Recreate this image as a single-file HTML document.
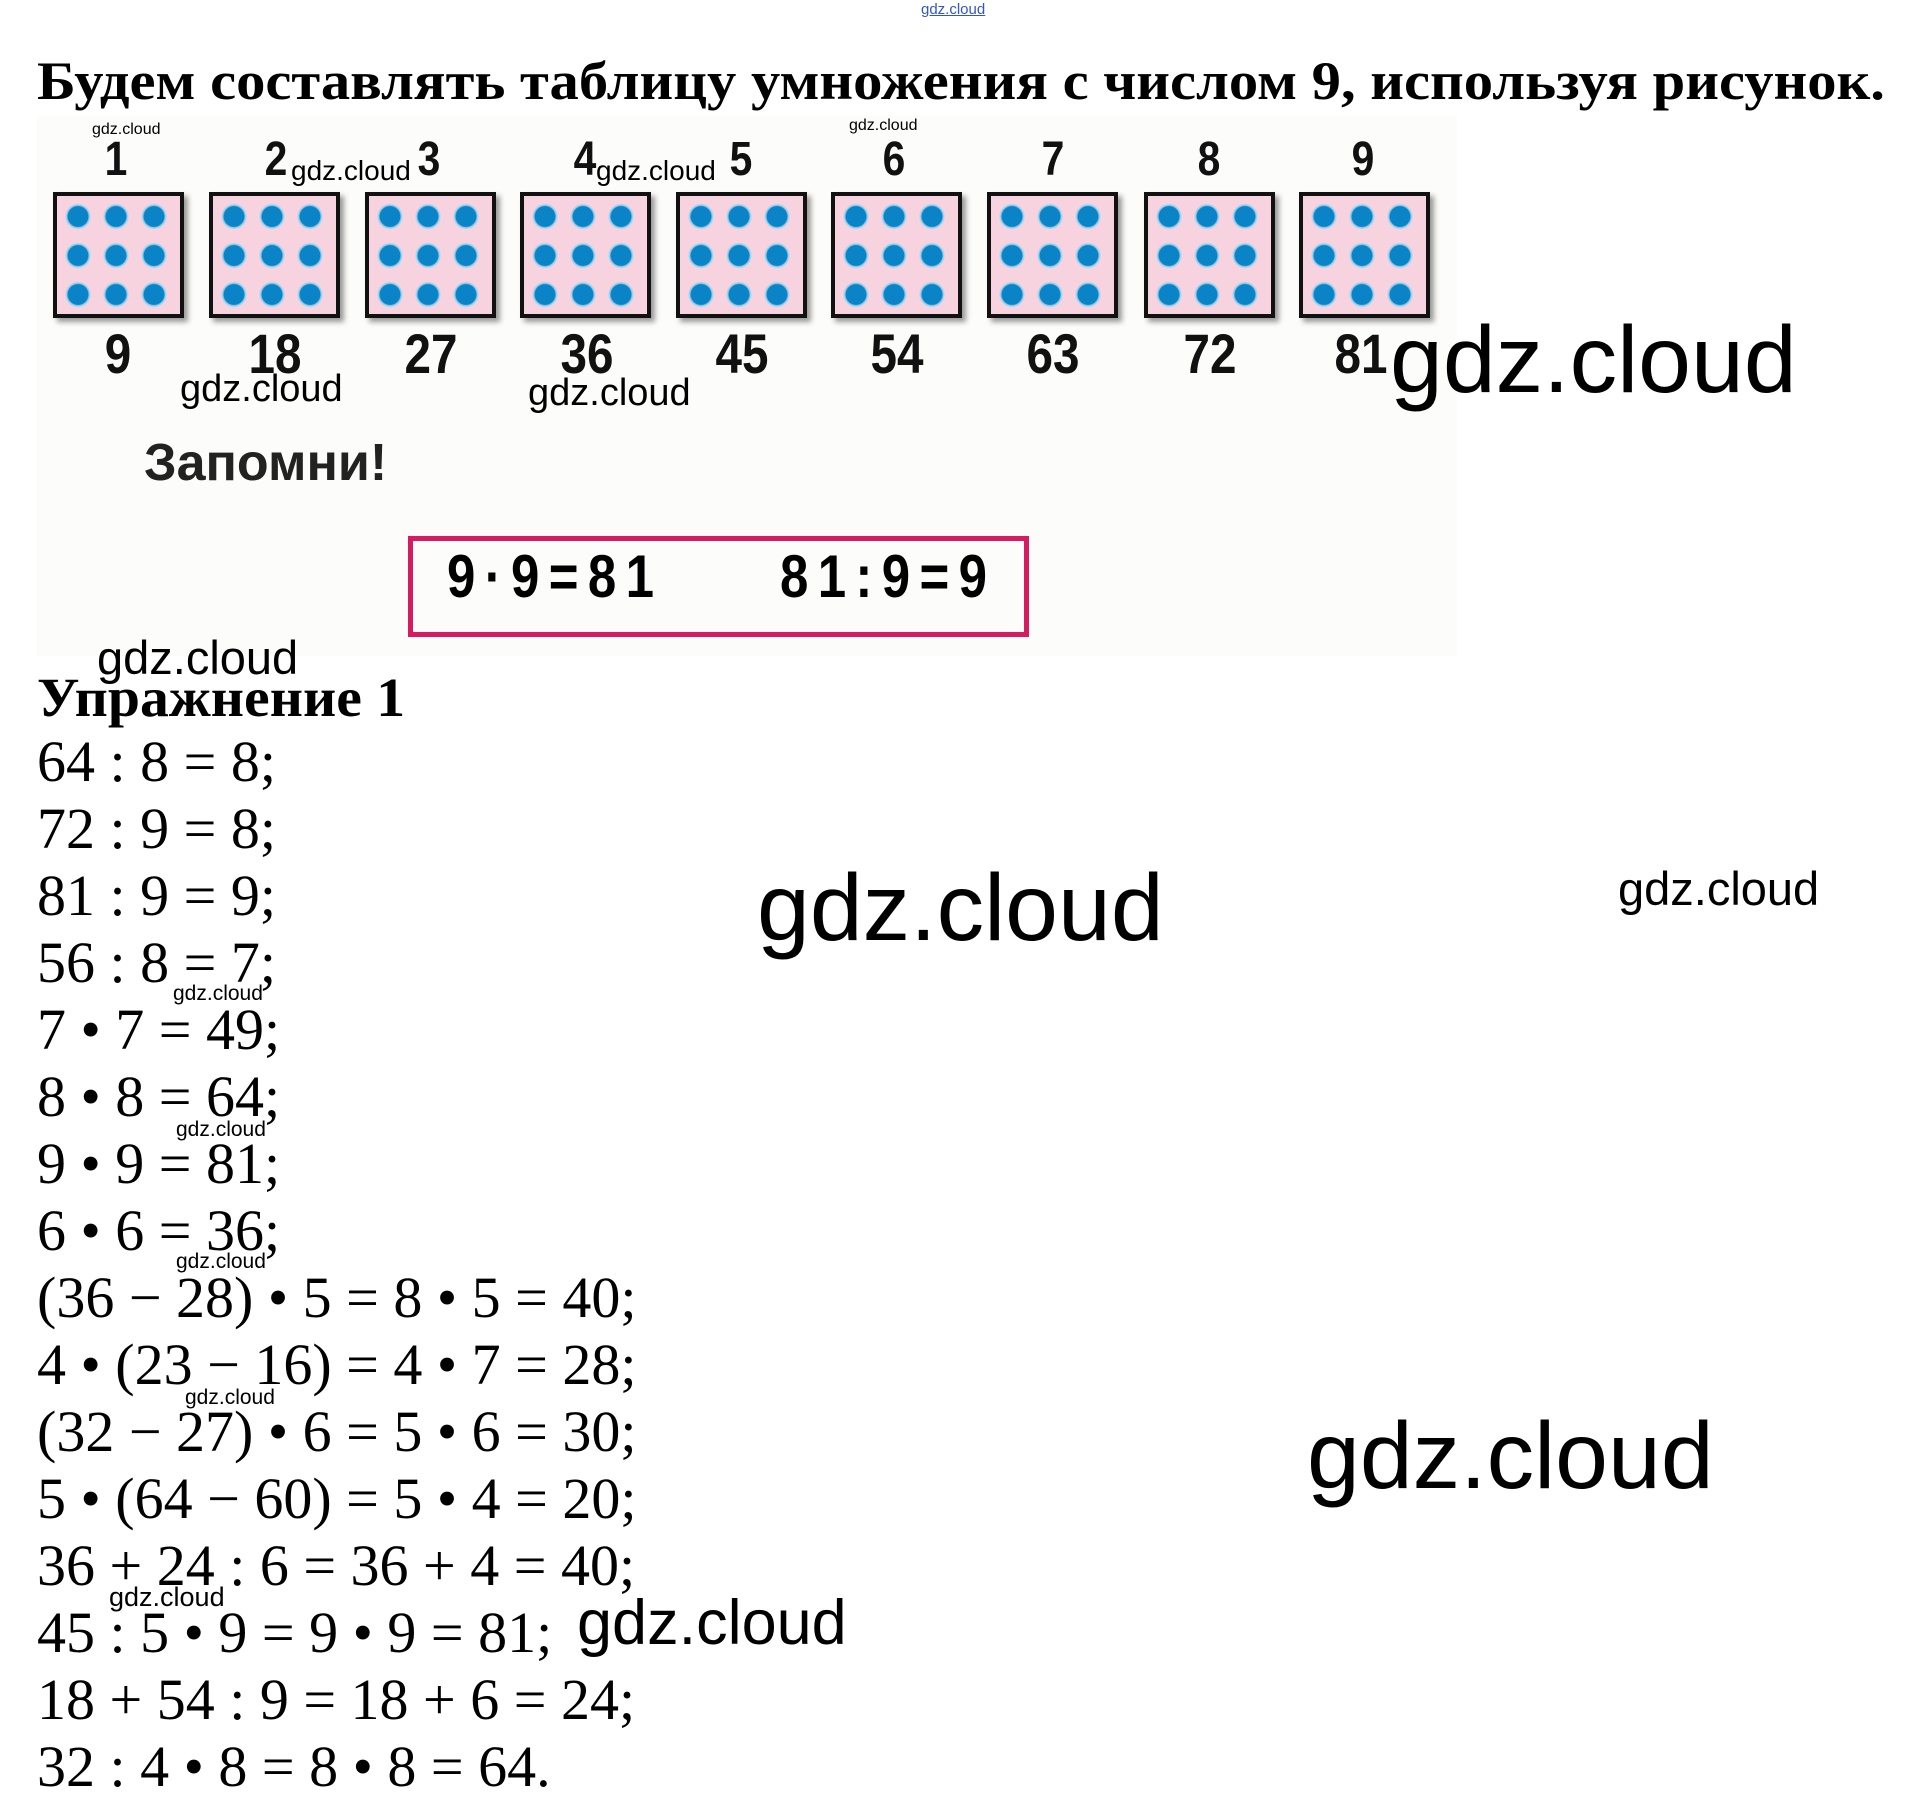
<!DOCTYPE html>
<html><head><meta charset="utf-8"><style>
body{margin:0;width:1919px;height:1801px;background:#fff;position:relative;overflow:hidden;font-family:"Liberation Serif",serif;}
.a{position:absolute;white-space:nowrap;line-height:1;}
.w{font-family:"Liberation Sans",sans-serif;color:#000;}
.box{position:absolute;top:192px;width:131px;height:126px;box-sizing:border-box;border:4px solid #111;background:#f7d3df;box-shadow:4px 4px 5px #999;}
.box div{position:absolute;left:2px;top:1px;width:114px;height:117px;background:radial-gradient(circle at 50% 50%,#0a84c6 10px,#7ecff0 11px,transparent 13px);background-size:38px 39px;}
.n{position:absolute;font-family:"Liberation Sans",sans-serif;font-weight:bold;transform:scaleX(0.85);text-align:center;width:100px;line-height:1;color:#111;}
.eq{font-size:58px;line-height:67px;}
</style></head><body>
<div class="a w" style="left:921px;top:2px;font-size:15px;color:#3355cc;text-decoration:underline;">gdz.cloud</div>
<div class="a" style="left:37px;top:54px;font-size:54px;font-weight:bold;transform:scaleX(1.085);transform-origin:left;">Будем составлять таблицу умножения с числом 9, используя рисунок.</div>
<div style="position:absolute;left:37px;top:116px;width:1420px;height:540px;background:#fcfcfa;"></div>

<div class="box" style="left:53px"><div></div></div>
<div class="box" style="left:209px"><div></div></div>
<div class="box" style="left:365px"><div></div></div>
<div class="box" style="left:520px"><div></div></div>
<div class="box" style="left:676px"><div></div></div>
<div class="box" style="left:831px"><div></div></div>
<div class="box" style="left:987px"><div></div></div>
<div class="box" style="left:1144px"><div></div></div>
<div class="box" style="left:1299px"><div></div></div>

<div class="n" style="left:66px;top:136px;font-size:48px">1</div>
<div class="n" style="left:226px;top:136px;font-size:48px">2</div>
<div class="n" style="left:379px;top:136px;font-size:48px">3</div>
<div class="n" style="left:535px;top:136px;font-size:48px">4</div>
<div class="n" style="left:691px;top:136px;font-size:48px">5</div>
<div class="n" style="left:844px;top:136px;font-size:48px">6</div>
<div class="n" style="left:1003px;top:136px;font-size:48px">7</div>
<div class="n" style="left:1159px;top:136px;font-size:48px">8</div>
<div class="n" style="left:1313px;top:136px;font-size:48px">9</div>

<div class="n" style="left:68px;top:326px;font-size:56px">9</div>
<div class="n" style="left:225px;top:326px;font-size:56px">18</div>
<div class="n" style="left:381px;top:326px;font-size:56px">27</div>
<div class="n" style="left:537px;top:326px;font-size:56px">36</div>
<div class="n" style="left:692px;top:326px;font-size:56px">45</div>
<div class="n" style="left:847px;top:326px;font-size:56px">54</div>
<div class="n" style="left:1003px;top:326px;font-size:56px">63</div>
<div class="n" style="left:1160px;top:326px;font-size:56px">72</div>
<div class="n" style="left:1311px;top:326px;font-size:56px">81</div>

<div class="a" style="left:144px;top:437px;font-family:'Liberation Sans',sans-serif;font-weight:bold;font-size:52px;color:#222;">Запомни!</div>
<div style="position:absolute;left:408px;top:536px;width:621px;height:101px;box-sizing:border-box;border:5px solid #d81b60;"></div>
<div class="a" style="left:447px;top:547px;font-family:'Liberation Sans',sans-serif;font-weight:bold;font-size:60px;transform:scaleX(0.85);transform-origin:left;letter-spacing:11px;">9·9=81</div>
<div class="a" style="left:780px;top:547px;font-family:'Liberation Sans',sans-serif;font-weight:bold;font-size:60px;transform:scaleX(0.85);transform-origin:left;letter-spacing:11px;">81:9=9</div>

<div class="a" style="left:37px;top:670px;font-size:55px;font-weight:bold;transform:scaleX(1.05);transform-origin:left;">Упражнение 1</div>
<div class="a eq" style="left:37px;top:728px;">64 : 8 = 8;</div>
<div class="a eq" style="left:37px;top:795px;">72 : 9 = 8;</div>
<div class="a eq" style="left:37px;top:862px;">81 : 9 = 9;</div>
<div class="a eq" style="left:37px;top:929px;">56 : 8 = 7;</div>
<div class="a eq" style="left:37px;top:996px;">7 • 7 = 49;</div>
<div class="a eq" style="left:37px;top:1063px;">8 • 8 = 64;</div>
<div class="a eq" style="left:37px;top:1130px;">9 • 9 = 81;</div>
<div class="a eq" style="left:37px;top:1197px;">6 • 6 = 36;</div>
<div class="a eq" style="left:37px;top:1264px;">(36 − 28) • 5 = 8 • 5 = 40;</div>
<div class="a eq" style="left:37px;top:1331px;">4 • (23 − 16) = 4 • 7 = 28;</div>
<div class="a eq" style="left:37px;top:1398px;">(32 − 27) • 6 = 5 • 6 = 30;</div>
<div class="a eq" style="left:37px;top:1465px;">5 • (64 − 60) = 5 • 4 = 20;</div>
<div class="a eq" style="left:37px;top:1532px;">36 + 24 : 6 = 36 + 4 = 40;</div>
<div class="a eq" style="left:37px;top:1599px;">45 : 5 • 9 = 9 • 9 = 81;</div>
<div class="a eq" style="left:37px;top:1666px;">18 + 54 : 9 = 18 + 6 = 24;</div>
<div class="a eq" style="left:37px;top:1733px;">32 : 4 • 8 = 8 • 8 = 64.</div>

<div class="a w" style="left:92px;top:122px;font-size:16px;">gdz.cloud</div>
<div class="a w" style="left:291px;top:157px;font-size:28px;">gdz.cloud</div>
<div class="a w" style="left:596px;top:157px;font-size:28px;">gdz.cloud</div>
<div class="a w" style="left:849px;top:118px;font-size:16px;">gdz.cloud</div>
<div class="a w" style="left:180px;top:370px;font-size:38px;">gdz.cloud</div>
<div class="a w" style="left:528px;top:374px;font-size:38px;">gdz.cloud</div>
<div class="a w" style="left:1390px;top:313px;font-size:95px;">gdz.cloud</div>
<div class="a w" style="left:97px;top:634px;font-size:47px;">gdz.cloud</div>
<div class="a w" style="left:757px;top:861px;font-size:95px;">gdz.cloud</div>
<div class="a w" style="left:1618px;top:865px;font-size:47px;">gdz.cloud</div>
<div class="a w" style="left:173px;top:983px;font-size:21px;">gdz.cloud</div>
<div class="a w" style="left:176px;top:1119px;font-size:21px;">gdz.cloud</div>
<div class="a w" style="left:176px;top:1251px;font-size:21px;">gdz.cloud</div>
<div class="a w" style="left:185px;top:1387px;font-size:21px;">gdz.cloud</div>
<div class="a w" style="left:1307px;top:1409px;font-size:95px;">gdz.cloud</div>
<div class="a w" style="left:109px;top:1584px;font-size:27px;">gdz.cloud</div>
<div class="a w" style="left:577px;top:1592px;font-size:63px;">gdz.cloud</div>
</body></html>
